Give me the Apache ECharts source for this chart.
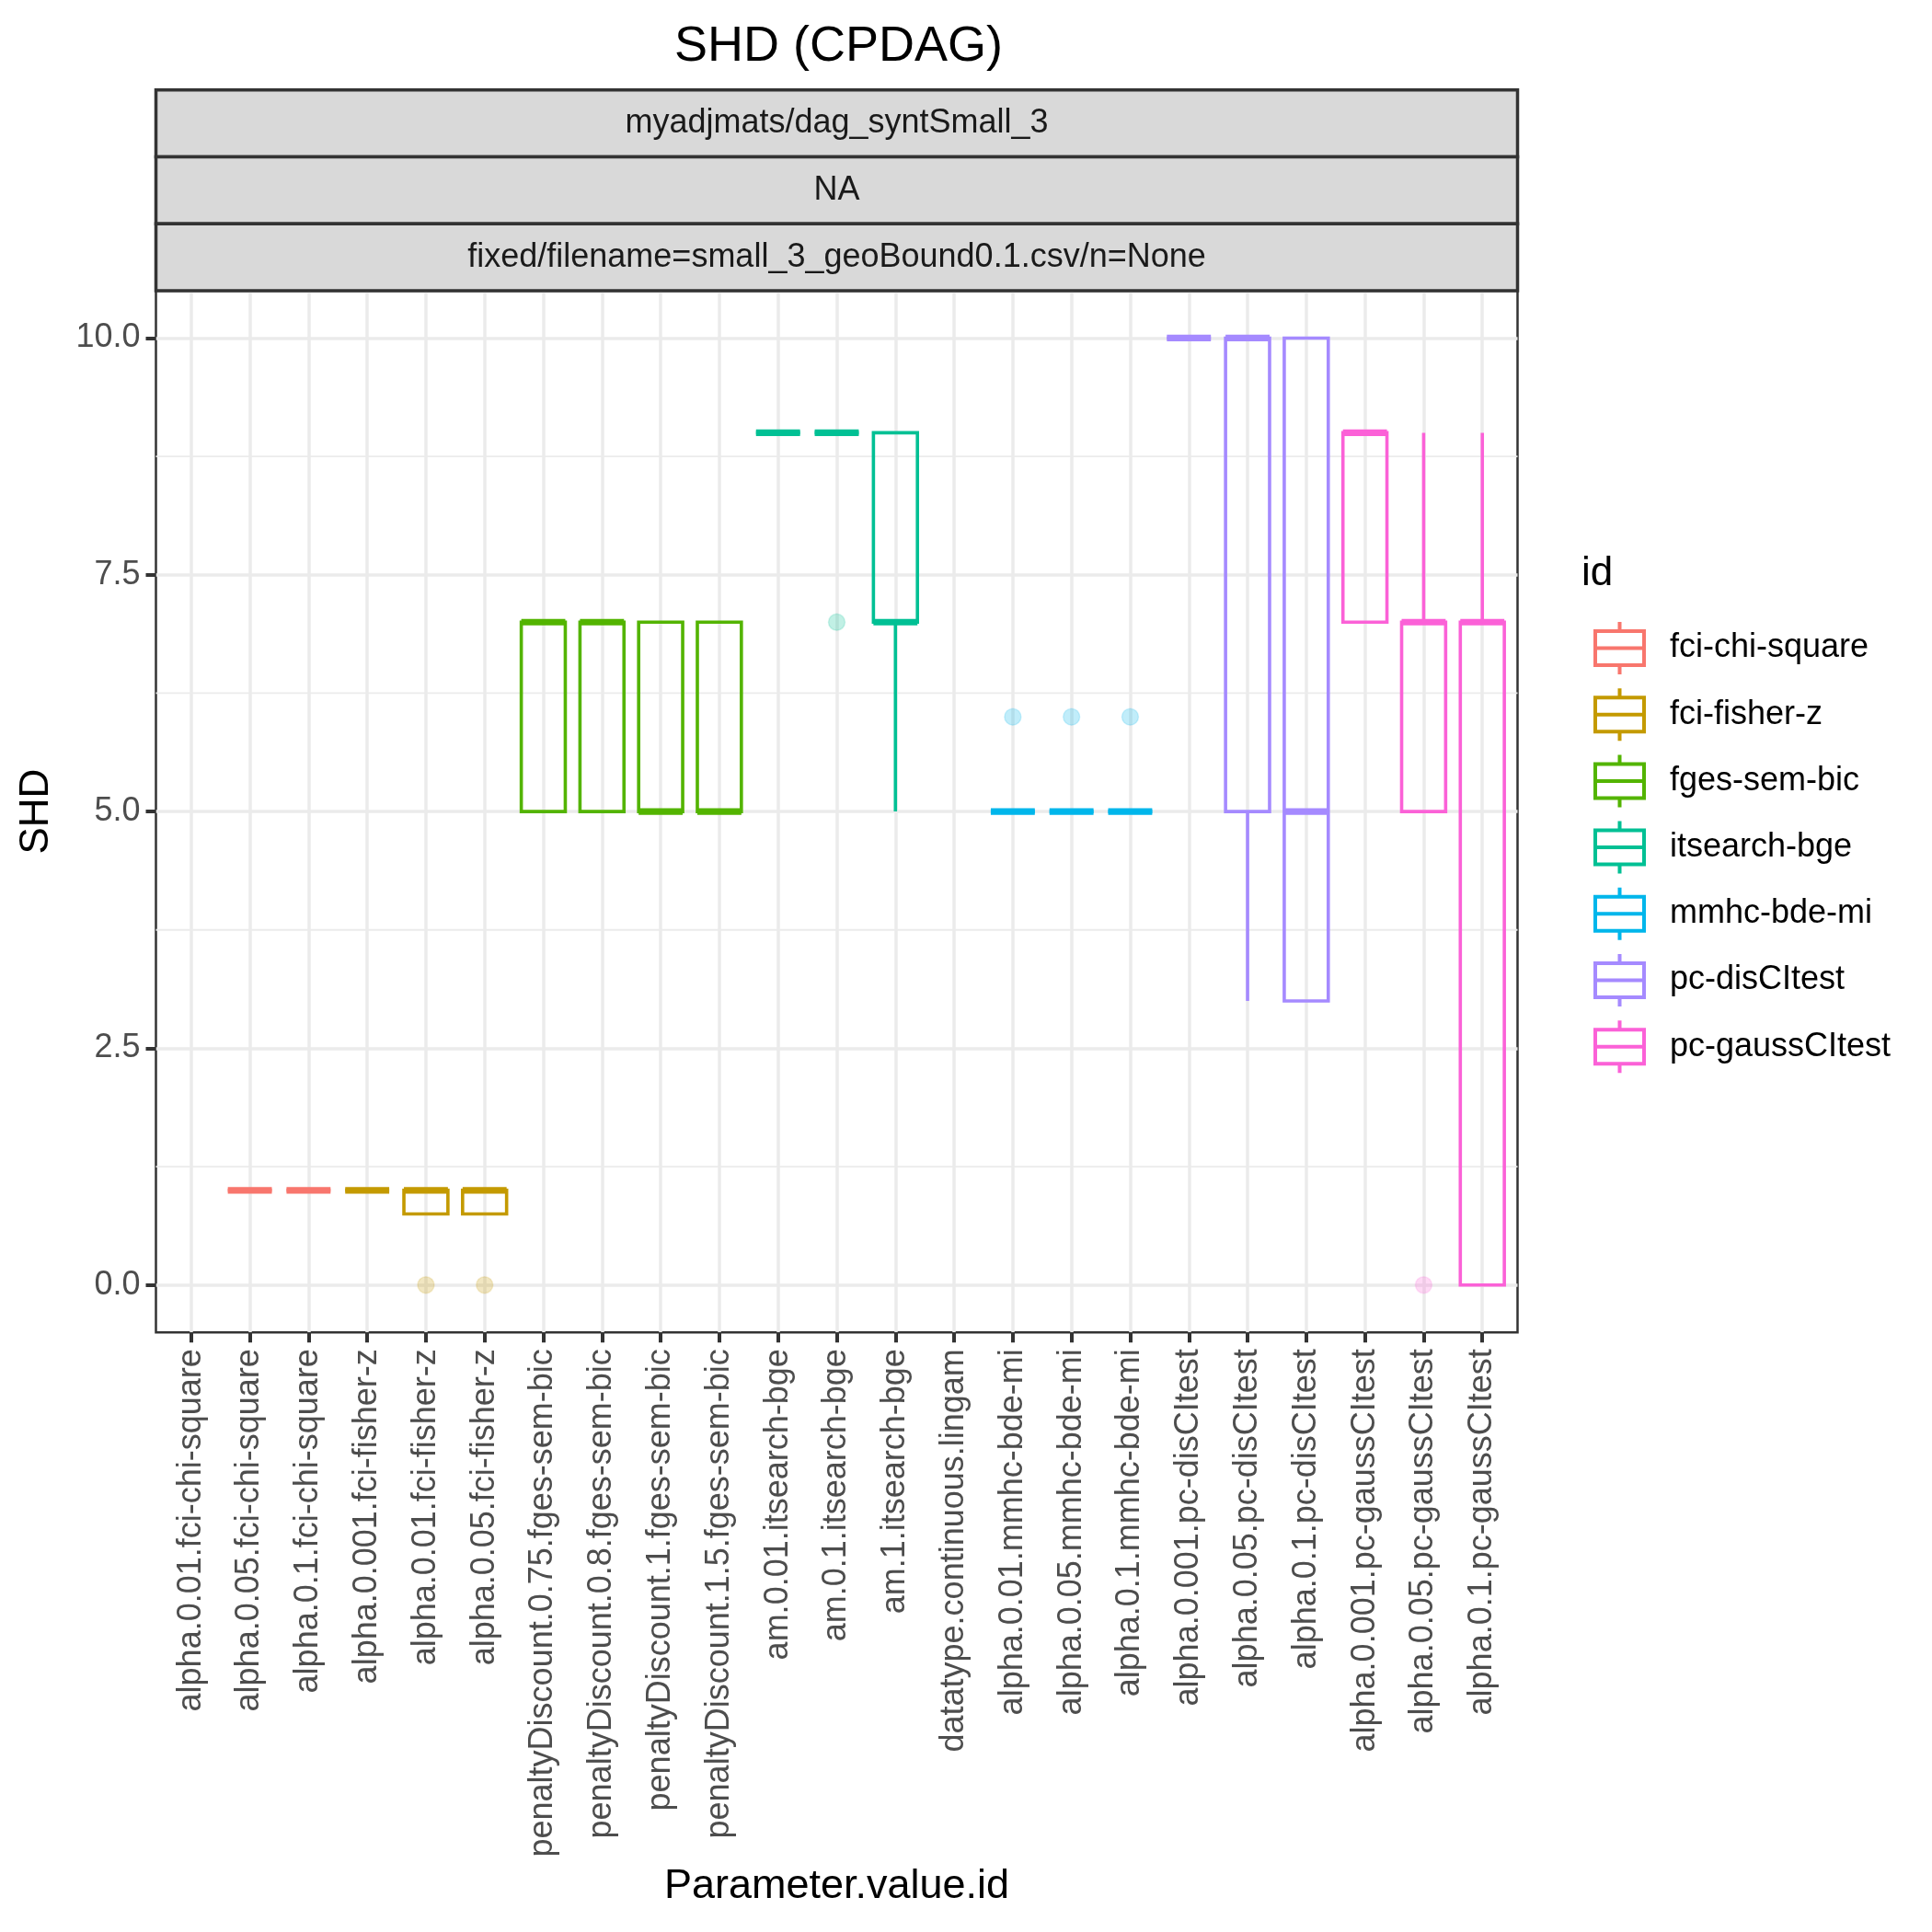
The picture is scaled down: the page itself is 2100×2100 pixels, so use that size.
<!DOCTYPE html>
<html>
<head>
<meta charset="utf-8">
<script src="https://cdn.jsdelivr.net/npm/echarts@6/dist/echarts.min.js"></script>
<style>
html,body{margin:0;padding:0;background:#fff;}
#chart{width:2100px;height:2100px;}
</style>
</head>
<body>
<div id="chart"></div>
<script>
// ---- data ----
const categories = [
  'alpha.0.01.fci-chi-square','alpha.0.05.fci-chi-square','alpha.0.1.fci-chi-square',
  'alpha.0.001.fci-fisher-z','alpha.0.01.fci-fisher-z','alpha.0.05.fci-fisher-z',
  'penaltyDiscount.0.75.fges-sem-bic','penaltyDiscount.0.8.fges-sem-bic',
  'penaltyDiscount.1.fges-sem-bic','penaltyDiscount.1.5.fges-sem-bic',
  'am.0.01.itsearch-bge','am.0.1.itsearch-bge','am.1.itsearch-bge',
  'datatype.continuous.lingam',
  'alpha.0.01.mmhc-bde-mi','alpha.0.05.mmhc-bde-mi','alpha.0.1.mmhc-bde-mi',
  'alpha.0.001.pc-disCItest','alpha.0.05.pc-disCItest','alpha.0.1.pc-disCItest',
  'alpha.0.001.pc-gaussCItest','alpha.0.05.pc-gaussCItest','alpha.0.1.pc-gaussCItest'
];
const methods = ['fci-chi-square','fci-fisher-z','fges-sem-bic','itsearch-bge','mmhc-bde-mi','pc-disCItest','pc-gaussCItest'];
const methodColors = ['#F8766D','#C49A00','#53B400','#00C094','#00B6EB','#A58AFF','#FB61D7'];
const methodOf   = [0,0,0, 1,1,1, 2,2,2,2, 3,3,3, null, 4,4,4, 5,5,5, 6,6,6];
const whiskerLow = [null,1,1, 1,0.75,0.75, 5,5,5,5, 9,9,5, null, 5,5,5, 10,3,3, 7,5,0];
const q1         = [null,1,1, 1,0.75,0.75, 5,5,5,5, 9,9,7, null, 5,5,5, 10,5,3, 7,5,0];
const median     = [null,1,1, 1,1,1,       7,7,5,5, 9,9,7, null, 5,5,5, 10,10,5, 9,7,7];
const q3         = [null,1,1, 1,1,1,       7,7,7,7, 9,9,9, null, 5,5,5, 10,10,10, 9,7,7];
const whiskerHigh= [null,1,1, 1,1,1,       7,7,7,7, 9,9,9, null, 5,5,5, 10,10,10, 9,9,9];
const outliers = [[4,0],[5,0],[11,7],[14,6],[15,6],[16,6],[21,0]];
const yBreaks = [0, 2.5, 5, 7.5, 10];
const yMinorBreaks = [1.25, 3.75, 6.25, 8.75];
const stripTexts = ['myadjmats/dag_syntSmall_3','NA','fixed/filename=small_3_geoBound0.1.csv/n=None'];

// ---- layout ----
const FONT = "'Liberation Sans', Arial, Helvetica, sans-serif";
const G = {left:169.5, right:1649.5, top:316, bottom:1448.2};
const xTicks = categories.map((c, i) => i);
const BOX_LW = 3.6;

function hexA(hex, a){
  const n = parseInt(hex.slice(1),16);
  return 'rgba(' + ((n>>16)&255) + ',' + ((n>>8)&255) + ',' + (n&255) + ',' + a + ')';
}

function renderBox(params, api){
  const x = api.value(0);
  const color = api.visual('color');
  const pLow = api.coord([x, api.value(1)]);
  const pQ1 = api.coord([x, api.value(2)]);
  const pMed = api.coord([x, api.value(3)]);
  const pQ3 = api.coord([x, api.value(4)]);
  const pHigh = api.coord([x, api.value(5)]);
  const hw = api.size([0.75, 0])[0] / 2;
  const lw = BOX_LW;
  const children = [];
  if (pHigh[1] < pQ3[1]) children.push({type:'line', shape:{x1:pHigh[0],y1:pHigh[1],x2:pQ3[0],y2:pQ3[1]}, style:{stroke:color,lineWidth:lw}});
  if (pLow[1] > pQ1[1]) children.push({type:'line', shape:{x1:pQ1[0],y1:pQ1[1],x2:pLow[0],y2:pLow[1]}, style:{stroke:color,lineWidth:lw}});
  children.push({type:'rect', shape:{x:pQ3[0]-hw, y:pQ3[1], width:2*hw, height:pQ1[1]-pQ3[1]}, style:{fill:'none',stroke:color,lineWidth:lw}});
  children.push({type:'line', shape:{x1:pMed[0]-hw,y1:pMed[1],x2:pMed[0]+hw,y2:pMed[1]}, style:{stroke:color,lineWidth:lw*2}});
  return {type:'group', children};
}

const boxSeries = methods.map((m, mi) => {
  const data = [];
  categories.forEach((c, i) => {
    if (methodOf[i] === mi && median[i] !== null) {
      data.push([i, whiskerLow[i], q1[i], median[i], q3[i], whiskerHigh[i]]);
    }
  });
  return {
    type:'custom', name:m, renderItem:renderBox, data,
    itemStyle:{color:methodColors[mi]},
    encode:{x:0, y:[1,2,3,4,5]}, z:3, silent:true, animation:false
  };
});

const outlierData = outliers.map(o => ({
  value:o,
  itemStyle:{color:hexA(methodColors[methodOf[o[0]]], 0.3),
             borderColor:hexA(methodColors[methodOf[o[0]]], 0.2), borderWidth:1.5}
}));

const glyph = 'path://M26.5 0 L30.5 0 L30.5 10 L26.5 10 Z M0 8 L57 8 L57 12 L0 12 Z M0 45 L57 45 L57 49 L0 49 Z M0 8 L4 8 L4 49 L0 49 Z M53 8 L57 8 L57 49 L53 49 Z M0 26.5 L57 26.5 L57 30.5 L0 30.5 Z M26.5 47 L30.5 47 L30.5 57 L26.5 57 Z';

const stripH = (G.top - 97.7) / 3;
const graphics = [];
stripTexts.forEach((t, k) => {
  const y0 = 97.7 + k * stripH;
  graphics.push({type:'rect', shape:{x:G.left, y:y0, width:G.right-G.left, height:stripH},
    style:{fill:'#D9D9D9', stroke:'#333333', lineWidth:3.5}, z:1, silent:true});
  graphics.push({type:'text', x:(G.left+G.right)/2, y:y0+stripH/2,
    style:{text:t, fill:'#1A1A1A', font:'36px ' + FONT, textAlign:'center', textVerticalAlign:'middle'}, z:2, silent:true});
});

const option = {
  backgroundColor:'#ffffff',
  animation:false,
  title:[
    {text:'SHD (CPDAG)', left:(G.left+G.right)/2 - 3, top:19, textAlign:'center',
     textStyle:{fontSize:54, fontWeight:'normal', color:'#000', fontFamily:FONT}},
    {text:'id', left:1714, top:597, textStyle:{fontSize:44, fontWeight:'normal', color:'#000', fontFamily:FONT}}
  ],
  grid:{left:G.left, right:2100-G.right, top:G.top, bottom:2100-G.bottom, show:true,
        borderColor:'#333333', borderWidth:2.5, backgroundColor:'rgba(0,0,0,0)'},
  legend:{
    orient:'vertical', left:1727, top:671, itemWidth:57, itemHeight:57, itemGap:15.2,
    selectedMode:false, data:methods.map(m => ({name:m, icon:glyph})),
    itemStyle:{borderWidth:0},
    textStyle:{fontSize:36, color:'#000', fontFamily:FONT, padding:[0,0,0,21]}
  },
  xAxis:{
    type:'value', min:-0.6, max:22.6,
    axisLine:{show:false, onZero:false},
    axisTick:{show:true, customValues:xTicks, length:11, lineStyle:{color:'#333333', width:4}},
    axisLabel:{customValues:xTicks, rotate:90, formatter:v => categories[Math.round(v)],
               fontSize:36, color:'#4D4D4D', margin:18, fontFamily:FONT},
    splitLine:{show:true, lineStyle:{color:'#EBEBEB', width:3.5}},
    name:'Parameter.value.id', nameLocation:'middle', nameGap:580,
    nameTextStyle:{fontSize:45, color:'#000', fontFamily:FONT}
  },
  yAxis:{
    type:'value', min:-0.5, max:10.5,
    axisLine:{show:false, onZero:false},
    axisTick:{show:true, customValues:yBreaks, length:11, lineStyle:{color:'#333333', width:4}},
    axisLabel:{customValues:yBreaks, formatter:v => v.toFixed(1), fontSize:36, color:'#4D4D4D', margin:17, fontFamily:FONT},
    splitLine:{show:true, lineStyle:{color:'#EBEBEB', width:3.5}},
    name:'SHD', nameLocation:'middle', nameGap:108,
    nameTextStyle:{fontSize:44, color:'#000', fontFamily:FONT}
  },
  graphic:graphics,
  series:[
    {type:'custom', name:'minor', silent:true, z:1, data:yMinorBreaks.map(v => [v]),
     encode:{y:0},
     renderItem:function(params, api){
       const v = api.value(0);
       const a = api.coord([-0.6, v]), b = api.coord([22.6, v]);
       return {type:'line', shape:{x1:a[0],y1:a[1],x2:b[0],y2:b[1]}, style:{stroke:'#EBEBEB', lineWidth:1.8}};
     }},
    ...boxSeries,
    {type:'scatter', name:'outliers', symbol:'circle', symbolSize:18, z:4, silent:true,
     data:outlierData}
  ]
};

const chart = echarts.init(document.getElementById('chart'), null, {renderer:'canvas', width:2100, height:2100});
chart.setOption(option);
</script>
</body>
</html>
